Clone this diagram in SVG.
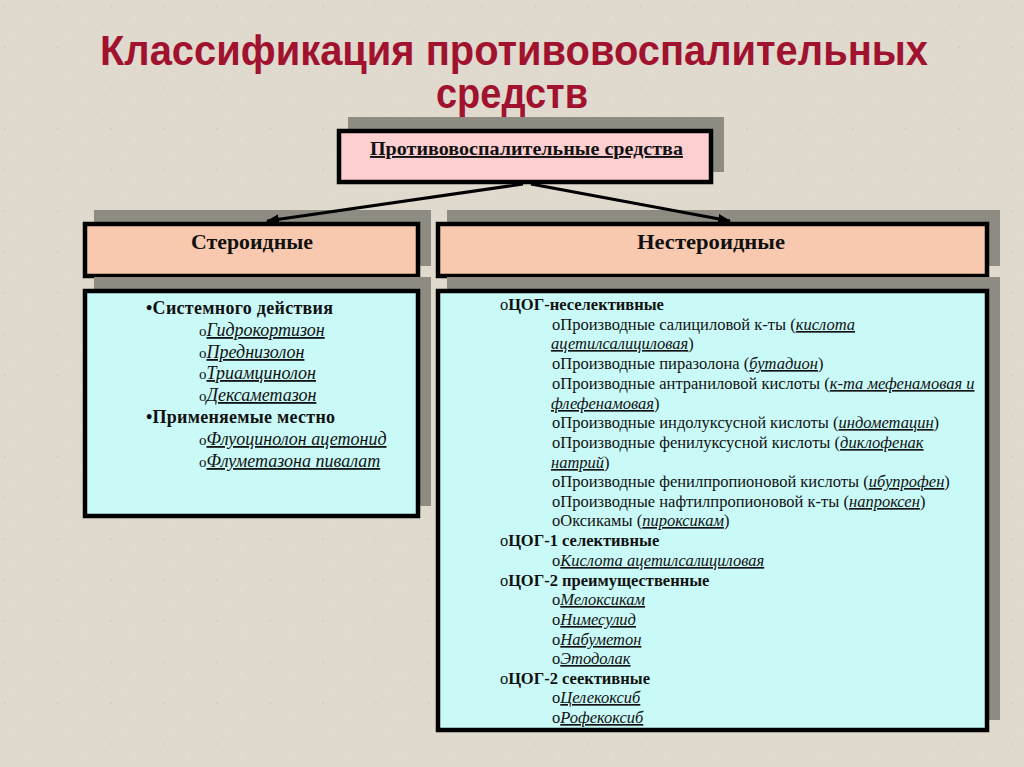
<svg xmlns="http://www.w3.org/2000/svg" width="1024" height="767" viewBox="0 0 1024 767">
  <defs>
    <pattern id="speckle" width="53" height="41" patternUnits="userSpaceOnUse">
      <rect width="53" height="41" fill="#DFD9CE"/>
      <circle cx="5" cy="6" r="0.7" fill="#C6BFB2"/>
      <circle cx="29" cy="17" r="0.8" fill="#EEEAE2"/>
      <circle cx="44" cy="31" r="0.6" fill="#CCC5B8"/>
      <circle cx="15" cy="33" r="0.7" fill="#ECE8E0"/>
      <circle cx="38" cy="5" r="0.5" fill="#CEC7BA"/>
    </pattern>
    <marker id="arrow" markerUnits="userSpaceOnUse" markerWidth="14" markerHeight="12" refX="12" refY="6" orient="auto">
      <path d="M0,1 L13,6 L0,11 Z" fill="#000"/>
    </marker>
    <style>
      .shadow { fill: #8E8C82; }
      .box { stroke: #000; stroke-width: 4.5; }
      .pink { fill: #FDCFD1; }
      .peach { fill: #F8C9AF; }
      .cyan { fill: #CAFAF8; }
      .title { font-family: "Liberation Sans", Arial, sans-serif; font-weight: bold; font-size: 42px; fill: #A0122E; }
      .serif { font-family: "Liberation Serif", "Times New Roman", serif; fill: #111; }
      .top { font-size: 19px; font-weight: bold; text-decoration: underline; }
      .hdr { font-size: 21px; font-weight: bold; }
      .lb { font-size: 18px; font-weight: bold; }
      .lo { font-size: 15px; }
      .li { font-size: 18px; font-style: italic; text-decoration: underline; }
      .rt { font-size: 16.5px; }
      .rb { font-weight: bold; }
      .ri { font-style: italic; text-decoration: underline; }
      .conn { stroke: #000; stroke-width: 3; fill: none; }
    </style>
  </defs>

  <rect x="0" y="0" width="1024" height="767" fill="url(#speckle)"/>

  <g id="title">
    <text class="title" x="100" y="65" textLength="828" lengthAdjust="spacingAndGlyphs">Классификация противовоспалительных</text>
    <text class="title" x="436" y="108" textLength="152" lengthAdjust="spacingAndGlyphs">средств</text>
  </g>

  <g id="root">
    <rect class="shadow" x="348" y="117" width="376" height="55"/>
    <rect class="box pink" x="339" y="131" width="372" height="51"/>
    <text class="serif top" x="370" y="155" textLength="313" lengthAdjust="spacingAndGlyphs">Противовоспалительные средства</text>
  </g>

  <g id="steroid-header">
    <rect class="shadow" x="94" y="210" width="337" height="56"/>
    <rect class="box peach" x="85" y="224" width="333" height="52"/>
    <text class="serif hdr" x="252" y="249" text-anchor="middle" textLength="122" lengthAdjust="spacingAndGlyphs">Стероидные</text>
  </g>

  <g id="nonsteroid-header">
    <rect class="shadow" x="447" y="210" width="553" height="56"/>
    <rect class="box peach" x="438" y="224" width="549" height="52"/>
    <text class="serif hdr" x="711" y="249" text-anchor="middle" textLength="148" lengthAdjust="spacingAndGlyphs">Нестероидные</text>
  </g>

  <g id="steroid-list">
    <rect class="shadow" x="94" y="277" width="337" height="229"/>
    <rect class="box cyan" x="85" y="291" width="333" height="225"/>
    <text class="serif lb" x="146" y="314" textLength="187">•Системного действия</text>
    <text class="serif" x="199" y="336"><tspan class="lo">o</tspan><tspan class="li">Гидрокортизон</tspan></text>
    <text class="serif" x="199" y="358"><tspan class="lo">o</tspan><tspan class="li">Преднизолон</tspan></text>
    <text class="serif" x="199" y="379"><tspan class="lo">o</tspan><tspan class="li">Триамцинолон</tspan></text>
    <text class="serif" x="199" y="401"><tspan class="lo">o</tspan><tspan class="li">Дексаметазон</tspan></text>
    <text class="serif lb" x="146" y="423" textLength="189">•Применяемые местно</text>
    <text class="serif" x="199" y="445"><tspan class="lo">o</tspan><tspan class="li">Флуоцинолон ацетонид</tspan></text>
    <text class="serif" x="199" y="467"><tspan class="lo">o</tspan><tspan class="li">Флуметазона пивалат</tspan></text>
  </g>

  <g id="nonsteroid-list">
    <rect class="shadow" x="447" y="277" width="553" height="443"/>
    <rect class="box cyan" x="438" y="291" width="549" height="439"/>
    <g class="serif rt">
      <text x="500" y="310">o<tspan class="rb">ЦОГ-неселективные</tspan></text>
      <text x="552" y="330">oПроизводные салициловой к-ты (<tspan class="ri">кислота</tspan></text>
      <text x="551" y="349"><tspan class="ri">ацетилсалициловая</tspan>)</text>
      <text x="552" y="369">oПроизводные пиразолона (<tspan class="ri">бутадион</tspan>)</text>
      <text x="552" y="389">oПроизводные антраниловой кислоты (<tspan class="ri">к-та мефенамовая и</tspan></text>
      <text x="551" y="409"><tspan class="ri">флефенамовая</tspan>)</text>
      <text x="552" y="428">oПроизводные индолуксусной кислоты (<tspan class="ri">индометацин</tspan>)</text>
      <text x="552" y="448">oПроизводные фенилуксусной кислоты (<tspan class="ri">диклофенак</tspan></text>
      <text x="551" y="468"><tspan class="ri">натрий</tspan>)</text>
      <text x="552" y="487">oПроизводные фенилпропионовой кислоты (<tspan class="ri">ибупрофен</tspan>)</text>
      <text x="552" y="507">oПроизводные нафтилпропионовой к-ты (<tspan class="ri">напроксен</tspan>)</text>
      <text x="552" y="526">oОксикамы (<tspan class="ri">пироксикам</tspan>)</text>
      <text x="500" y="546">o<tspan class="rb">ЦОГ-1 селективные</tspan></text>
      <text x="552" y="566">o<tspan class="ri">Кислота ацетилсалициловая</tspan></text>
      <text x="500" y="586">o<tspan class="rb">ЦОГ-2 преимущественные</tspan></text>
      <text x="552" y="605">o<tspan class="ri">Мелоксикам</tspan></text>
      <text x="552" y="625">o<tspan class="ri">Нимесулид</tspan></text>
      <text x="552" y="645">o<tspan class="ri">Набуметон</tspan></text>
      <text x="552" y="664">o<tspan class="ri">Этодолак</tspan></text>
      <text x="500" y="684">o<tspan class="rb">ЦОГ-2 сеективные</tspan></text>
      <text x="552" y="703">o<tspan class="ri">Целекоксиб</tspan></text>
      <text x="552" y="723">o<tspan class="ri">Рофекоксиб</tspan></text>
    </g>
  </g>

  <g id="connectors">
    <line class="conn" x1="523" y1="184" x2="267" y2="221" marker-end="url(#arrow)"/>
    <line class="conn" x1="531" y1="184" x2="730" y2="221" marker-end="url(#arrow)"/>
  </g>
</svg>
